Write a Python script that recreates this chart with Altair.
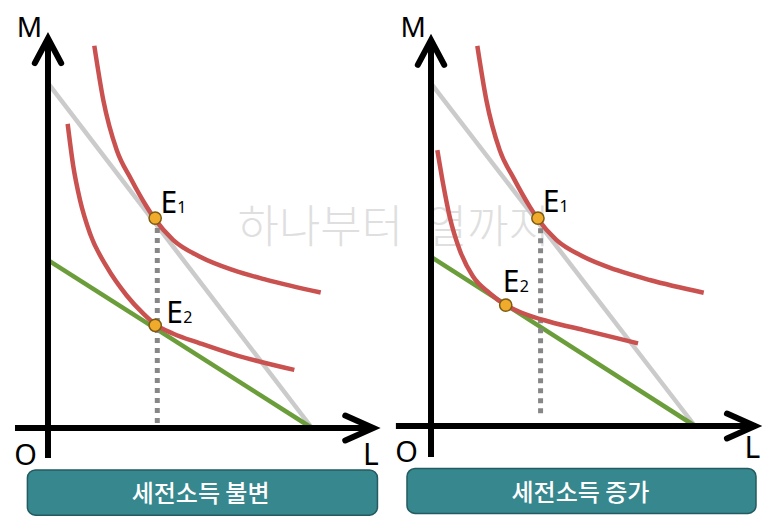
import altair as alt
import pandas as pd

# ------------------------------------------------------------------
# Text
panel_titles = ["세전소득 불변", "세전소득 증가"]
watermark_text = "하나부터\u2002열까지"
axis_letters = ["M", "O", "L"]
axis_letter_sizes = [28, 29, 30]
eq_labels = ["E", "1", "E", "2"]
eq_label_sizes = [30, 16, 30, 16]

# Each panel has its own (L, M) axes; the right panel sits this far to the
# right of the left one (in L units) and its origin is slightly higher.
panel_shift_L = [0.0, 14.508]
panel_shift_M = [0.0, 0.076]

# ------------------------------------------------------------------
# Left panel (세전소득 불변)
left_gray_L = [0.0, 10.0]
left_gray_M = [13.06, 0.0]
left_green_L = [0.0, 10.0]
left_green_M = [6.36, 0.0]
left_ic1_L = [1.754, 2.095, 2.602, 3.144, 3.739, 4.027, 4.746, 5.758, 7.019, 8.284, 10.33]
left_ic1_M = [14.48, 12.42, 10.53, 9.43, 8.38, 7.94, 7.12, 6.49, 5.98, 5.61, 5.13]
left_ic2_L = [0.745, 0.960, 1.212, 1.591, 2.222, 2.980, 3.611, 4.030, 4.747, 5.758, 7.020, 9.331]
left_ic2_M = [11.52, 9.90, 8.64, 7.37, 6.11, 5.02, 4.33, 3.95, 3.57, 3.21, 2.79, 2.20]
left_pts_L = [4.06, 4.06]
left_pts_M = [7.95, 3.89]
left_drop_L = [4.14, 4.14]
left_drop_M = [7.95, 0.0]
left_vaxis_M = [-1.14, 14.6]
left_haxis_L = [-1.25, 12.2]
left_uparrow_L = [-0.50, 0.0, 0.50]
left_uparrow_M = [13.82, 14.76, 13.82]
left_rarrow_L = [11.26, 12.32, 11.26]
left_rarrow_M = [0.47, 0.0, -0.47]
left_eq_L = [4.26, 4.90, 4.48, 5.12]
left_eq_M = [8.13, 8.13, 3.99, 3.99]
left_letters_L = [-0.70, -0.85, 12.23]
left_letters_M = [14.81, -1.40, -1.40]
left_box_L = [-0.78, 12.48]
left_box_M = [-1.59, -3.30]
left_title_L = [5.78]
left_title_M = [-2.82]
watermark_L = [7.18]
watermark_M = [6.99]

# ------------------------------------------------------------------
# Right panel (세전소득 증가)
right_gray_L = [0.0, 10.0]
right_gray_M = [12.98, 0.0]
right_green_L = [0.0, 10.0]
right_green_M = [6.41, 0.0]
right_ic1_L = [1.754, 2.095, 2.602, 3.144, 3.739, 4.027, 4.746, 5.758, 7.019, 8.284, 10.33]
right_ic1_M = [14.40, 12.35, 10.45, 9.36, 8.31, 7.87, 7.05, 6.42, 5.91, 5.53, 5.05]
right_ic2_L = [0.240, 0.455, 0.707, 1.086, 1.591, 2.222, 2.828, 3.485, 4.495, 5.758, 7.841]
right_ic2_M = [10.45, 9.19, 7.93, 6.67, 5.66, 5.03, 4.58, 4.27, 3.95, 3.64, 3.13]
right_pts_L = [4.05, 2.83]
right_pts_M = [7.87, 4.58]
right_drop_L = [4.15, 4.15]
right_drop_M = [7.87, 0.35]
right_vaxis_M = [-1.17, 14.46]
right_haxis_L = [-1.33, 12.15]
right_uparrow_L = [-0.50, 0.0, 0.50]
right_uparrow_M = [13.68, 14.62, 13.68]
right_rarrow_L = [11.21, 12.27, 11.21]
right_rarrow_M = [0.47, 0.0, -0.47]
right_eq_L = [4.23, 4.87, 2.72, 3.36]
right_eq_M = [8.12, 8.12, 5.09, 5.09]
right_letters_L = [-0.67, -0.93, 12.17]
right_letters_M = [14.75, -1.35, -1.22]
right_box_L = [-0.91, 12.31]
right_box_M = [-1.61, -3.31]
right_title_L = [5.66]
right_title_M = [-2.84]

# ------------------------------------------------------------------
X_DOM = [-1.515, 27.159]
Y_DOM = [-3.333, 15.909]
W, H = 757, 508

RED = "#c9514f"
GRAY = "#cbcbcb"
GREEN = "#6b9d3b"
DOT = "#878787"
ORANGE = "#f0ab2c"
ORANGE_EDGE = "#7d5b12"
TEAL = "#36878e"
TEAL_EDGE = "#245b60"
LATIN = "Noto Sans"
HANGUL = "Noto Sans CJK KR"

XS = alt.Scale(domain=X_DOM, nice=False, zero=False)
YS = alt.Scale(domain=Y_DOM, nice=False, zero=False)


def xy(xf="X", yf="Y"):
    return {"x": alt.X(f"{xf}:Q", scale=XS, axis=None),
            "y": alt.Y(f"{yf}:Q", scale=YS, axis=None)}


def both(lL, lM, rL, rM, extra=None):
    """Stack left/right panel values into one table, placing each in its panel."""
    rows = []
    for p, (Ls, Ms) in enumerate([(lL, lM), (rL, rM)]):
        for i, (a, b) in enumerate(zip(Ls, Ms)):
            row = {"panel": p, "i": i, "L": a, "M": b,
                   "X": a + panel_shift_L[p], "Y": b + panel_shift_M[p]}
            if extra is not None:
                for k, vals in extra.items():
                    row[k] = vals[p][i] if isinstance(vals[p], list) else vals[p]
            rows.append(row)
    return pd.DataFrame(rows)


def lines(df, **style):
    return alt.Chart(df).mark_line(**style).encode(
        detail="key:N", order=alt.Order("i:Q"), **xy())


def keyed(df, name):
    df = df.copy()
    df["key"] = name + df["panel"].astype(str)
    return df


layers = []

# watermark (under everything)
wm = pd.DataFrame({"X": watermark_L, "Y": watermark_M, "t": [watermark_text]})
layers.append(
    alt.Chart(wm).mark_text(align="left", baseline="alphabetic", font=HANGUL,
                            fontSize=45, fontWeight=300, color="#dfdfdf")
    .encode(text="t:N", **xy())
)

gray = keyed(both(left_gray_L, left_gray_M, right_gray_L, right_gray_M), "g")
green = keyed(both(left_green_L, left_green_M, right_green_L, right_green_M), "n")
drop = keyed(both(left_drop_L, left_drop_M, right_drop_L, right_drop_M), "d")
ic = pd.concat([
    keyed(both(left_ic1_L, left_ic1_M, right_ic1_L, right_ic1_M), "ic1_"),
    keyed(both(left_ic2_L, left_ic2_M, right_ic2_L, right_ic2_M), "ic2_"),
])
vaxis = keyed(both([0.0, 0.0], left_vaxis_M, [0.0, 0.0], right_vaxis_M), "v")
haxis = keyed(both(left_haxis_L, [0.0, 0.0], right_haxis_L, [0.0, 0.0]), "h")
heads = pd.concat([
    keyed(both(left_uparrow_L, left_uparrow_M, right_uparrow_L, right_uparrow_M), "u"),
    keyed(both(left_rarrow_L, left_rarrow_M, right_rarrow_L, right_rarrow_M), "r"),
])

layers.append(lines(gray, color=GRAY, strokeWidth=4.5))
layers.append(lines(green, color=GREEN, strokeWidth=4.5))
layers.append(lines(drop, color=DOT, strokeWidth=5, strokeDash=[5, 5], strokeCap="butt"))
layers.append(lines(ic, color=RED, strokeWidth=4.5, interpolate="monotone"))
layers.append(lines(vaxis, color="black", strokeWidth=6, strokeCap="butt"))
layers.append(lines(haxis, color="black", strokeWidth=6, strokeCap="butt"))
layers.append(lines(heads, color="black", strokeWidth=6, strokeCap="round", strokeJoin="miter"))

# equilibrium points
pts = both(left_pts_L, left_pts_M, right_pts_L, right_pts_M)
layers.append(
    alt.Chart(pts).mark_circle(size=150, fill=ORANGE, stroke=ORANGE_EDGE,
                               strokeWidth=1.5, opacity=1)
    .encode(**xy())
)

# E1 / E2 labels (letter + small index)
eq = both(left_eq_L, left_eq_M, right_eq_L, right_eq_M,
          extra={"t": [eq_labels, eq_labels], "s": [eq_label_sizes, eq_label_sizes]})
layers.append(
    alt.Chart(eq).mark_text(align="left", baseline="alphabetic", font=LATIN, color="black")
    .encode(text="t:N", size=alt.Size("s:Q", scale=None, legend=None), **xy())
)

# axis letters M, O, L
let = both(left_letters_L, left_letters_M, right_letters_L, right_letters_M,
           extra={"t": [axis_letters, axis_letters], "s": [axis_letter_sizes, axis_letter_sizes]})
layers.append(
    alt.Chart(let).mark_text(align="center", baseline="alphabetic", font=LATIN, color="black")
    .encode(text="t:N", size=alt.Size("s:Q", scale=None, legend=None), **xy())
)

# title boxes
boxes = pd.DataFrame({
    "X0": [left_box_L[0] + panel_shift_L[0], right_box_L[0] + panel_shift_L[1]],
    "X1": [left_box_L[1] + panel_shift_L[0], right_box_L[1] + panel_shift_L[1]],
    "Y0": [left_box_M[0] + panel_shift_M[0], right_box_M[0] + panel_shift_M[1]],
    "Y1": [left_box_M[1] + panel_shift_M[0], right_box_M[1] + panel_shift_M[1]],
})
layers.append(
    alt.Chart(boxes).mark_rect(fill=TEAL, stroke=TEAL_EDGE, strokeWidth=1.5, cornerRadius=8)
    .encode(x=alt.X("X0:Q", scale=XS, axis=None), x2="X1:Q",
            y=alt.Y("Y0:Q", scale=YS, axis=None), y2="Y1:Q")
)
titles = both(left_title_L, left_title_M, right_title_L, right_title_M,
              extra={"t": [[panel_titles[0]], [panel_titles[1]]]})
layers.append(
    alt.Chart(titles).mark_text(align="center", baseline="alphabetic", font=HANGUL,
                                fontSize=24, fontWeight=500, color="white")
    .encode(text="t:N", **xy())
)

chart = (
    alt.layer(*layers)
    .properties(width=W, height=H, padding=0, background="white",
                autosize=alt.AutoSizeParams(type="none"))
    .configure_view(stroke=None)
)

chart.save("out.html", embed_options={"renderer": "svg", "actions": False})
